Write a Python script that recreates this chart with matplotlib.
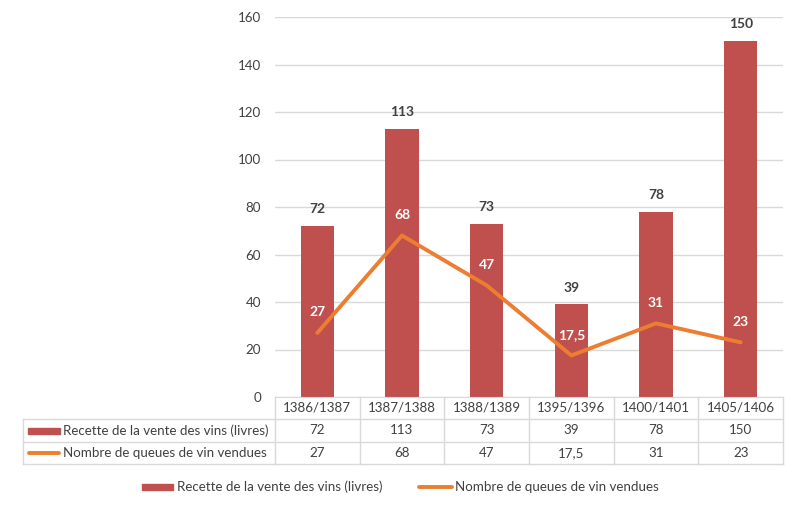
import matplotlib.pyplot as plt
from matplotlib.patches import Rectangle
from matplotlib.lines import Line2D
import numpy as np

# Data
periods = ["1386/1387", "1387/1388", "1388/1389", "1395/1396", "1400/1401", "1405/1406"]
recette = [72, 113, 73, 39, 78, 150]
queues = [27, 68, 47, 17.5, 31, 23]
recette_label = "Recette de la vente des vins (livres)"
queues_label = "Nombre de queues de vin vendues"

bar_color = "#C0504D"
line_color = "#ED7D31"
grid_color = "#D9D9D9"
text_color = "#404040"

plt.rcParams["font.family"] = ["Lato", "DejaVu Sans"]
fs = 9.6

W, H = 800, 509
fig = plt.figure(figsize=(W / 100, H / 100), dpi=100)

x_left, x_right = 275, 783
y_top, y_bottom = 17, 397
ax = fig.add_axes([x_left / W, 1 - y_bottom / H, (x_right - x_left) / W, (y_bottom - y_top) / H])

x = np.arange(len(periods))
ax.bar(x, recette, width=0.39, color=bar_color, zorder=2)
ax.plot(x, queues, color=line_color, linewidth=2.8, zorder=3, solid_capstyle="round")

for xi, v in zip(x, recette):
    ax.annotate(f"{v:g}", (xi, v), xytext=(0, 12), textcoords="offset points",
                ha="center", va="center", fontsize=10, fontweight="bold", color=text_color)
for xi, v in zip(x, queues):
    ax.annotate(f"{v:g}".replace(".", ","), (xi, v), xytext=(0, 15),
                textcoords="offset points", ha="center", va="center",
                fontsize=10, fontweight="bold", color="white", zorder=4)

ax.set_xlim(-0.5, len(periods) - 0.5)
ax.set_ylim(0, 160)
ax.set_yticks(range(0, 161, 20))
ax.set_xticks([])
ax.tick_params(axis="y", length=0, pad=10, labelsize=fs, labelcolor=text_color)
ax.grid(axis="y", color=grid_color, linewidth=1, zorder=0)
for s in ["top", "right", "left"]:
    ax.spines[s].set_visible(False)
ax.spines["bottom"].set_color(grid_color)


# Data table below the axes (pixel coords -> figure coords)
def fx(px):
    return px / W


def fy(py):
    return 1 - py / H


rows = [397, 419, 442, 464]
col_w = (x_right - x_left) / len(periods)
cols = [x_left + i * col_w for i in range(len(periods) + 1)]

for r in rows[1:]:
    fig.add_artist(Line2D([fx(23), fx(x_right)], [fy(r), fy(r)], color=grid_color, lw=1))
for c in cols:
    fig.add_artist(Line2D([fx(c), fx(c)], [fy(rows[0]), fy(rows[-1])], color=grid_color, lw=1))
fig.add_artist(Line2D([fx(23), fx(23)], [fy(rows[1]), fy(rows[-1])], color=grid_color, lw=1))

for i, p in enumerate(periods):
    cx = (cols[i] + cols[i + 1]) / 2
    fig.text(fx(cx), fy(408), p, ha="center", va="center", fontsize=fs, color=text_color)
    fig.text(fx(cx), fy(430.5), f"{recette[i]:g}", ha="center", va="center",
             fontsize=fs, color=text_color)
    fig.text(fx(cx), fy(453), f"{queues[i]:g}".replace(".", ","), ha="center",
             va="center", fontsize=fs, color=text_color)

# row headers with keys
fig.add_artist(Rectangle((fx(28), fy(434)), fx(32), fy(428) - fy(434), color=bar_color))
fig.text(fx(63), fy(430.5), recette_label, ha="left", va="center", fontsize=fs, color=text_color)
fig.add_artist(Line2D([fx(29), fx(59)], [fy(453), fy(453)], color=line_color, lw=2.8,
                      solid_capstyle="round"))
fig.text(fx(63), fy(453), queues_label, ha="left", va="center", fontsize=fs, color=text_color)

# legend
fig.add_artist(Rectangle((fx(142), fy(490)), fx(31), fy(484) - fy(490), color=bar_color))
fig.text(fx(177), fy(487), recette_label, ha="left", va="center", fontsize=fs, color=text_color)
fig.add_artist(Line2D([fx(419), fx(452)], [fy(487), fy(487)], color=line_color, lw=2.8,
                      solid_capstyle="round"))
fig.text(fx(455), fy(487), queues_label, ha="left", va="center", fontsize=fs, color=text_color)

fig.savefig("out.png", dpi=100)
